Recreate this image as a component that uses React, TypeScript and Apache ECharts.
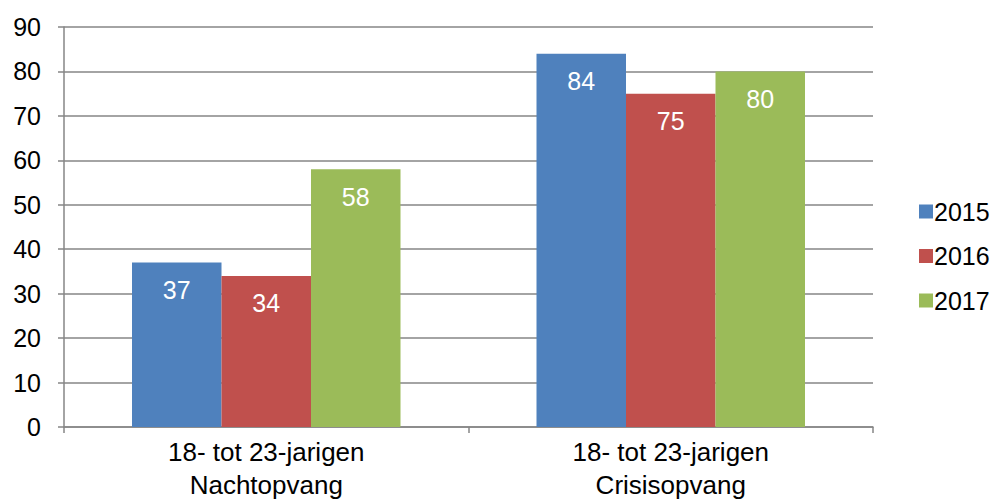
import React, { useEffect, useRef } from "react";
import * as echarts from "echarts";

const categories = ["18- tot 23-jarigen\nNachtopvang", "18- tot 23-jarigen\nCrisisopvang"];
const seriesNames = ["2015", "2016", "2017"];
const values2015 = [37, 84];
const values2016 = [34, 75];
const values2017 = [58, 80];
const colors = ["#4F81BD", "#C0504D", "#9BBB59"];

const FONT = "Liberation Sans, Arial, sans-serif";

export default function App() {
  const ref = useRef<HTMLDivElement>(null);
  useEffect(() => {
    if (!ref.current) return;
    const chart = echarts.init(ref.current, undefined, { renderer: "svg" });
    const data = [values2015, values2016, values2017];
    chart.setOption({
      animation: false,
      textStyle: { fontFamily: FONT },
      grid: { left: 64, right: 122, top: 27, bottom: 73, outerBoundsMode: "none", containLabel: false },
      legend: {
        orient: "vertical",
        left: 914,
        top: 194,
        itemWidth: 14,
        itemHeight: 14,
        itemGap: 19.5,
        icon: "rect",
        textStyle: { fontSize: 25, color: "#000", fontFamily: FONT, padding: [0, 0, 0, -4] },
        data: seriesNames,
      },
      xAxis: {
        type: "category",
        data: categories,
        axisLine: { lineStyle: { color: "#868686", width: 1.5 } },
        axisTick: { show: true, length: 6, lineStyle: { color: "#868686", width: 1.5 } },
        axisLabel: { fontSize: 26, color: "#000", lineHeight: 33, margin: 8, fontFamily: FONT },
      },
      yAxis: {
        type: "value",
        min: 0,
        max: 90,
        interval: 10,
        axisLine: { show: true, lineStyle: { color: "#868686", width: 1.5 } },
        axisTick: { show: true, length: 6, lineStyle: { color: "#868686", width: 1.5 } },
        splitLine: { lineStyle: { color: "#868686", width: 1.5 } },
        axisLabel: { fontSize: 25, color: "#000", margin: 23, fontFamily: FONT },
      },
      series: seriesNames.map((name, i) => ({
        name,
        type: "bar",
        data: data[i],
        barWidth: 89.5,
        barGap: "0%",
        itemStyle: { color: colors[i] },
        label: {
          show: true,
          position: "insideTop",
          distance: 15,
          color: "#fff",
          fontSize: 25,
          fontFamily: FONT,
        },
      })),
    });
    return () => chart.dispose();
  }, []);
  return <div ref={ref} style={{ width: 995, height: 500, position: "absolute", left: 0, top: 0 }} />;
}
